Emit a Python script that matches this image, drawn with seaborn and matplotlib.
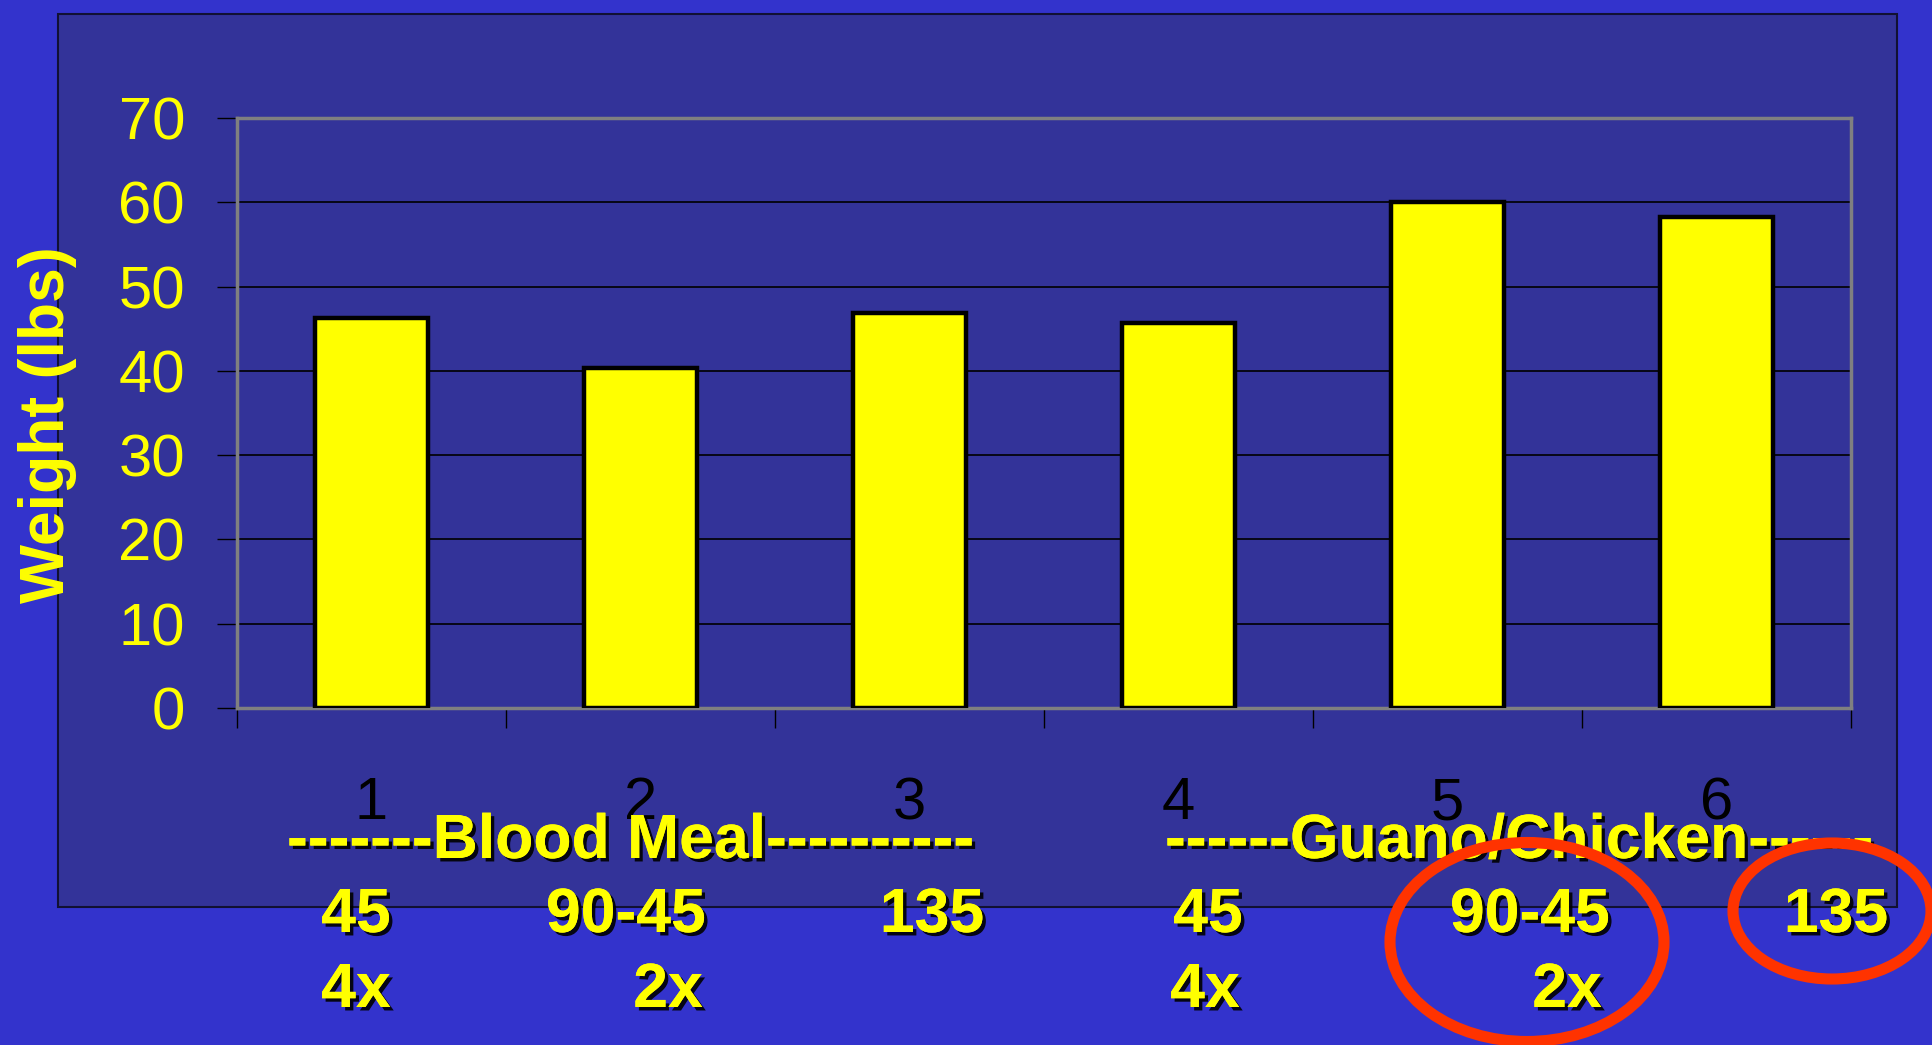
import matplotlib
matplotlib.use("Agg")
import matplotlib.pyplot as plt
import matplotlib.patheffects as pe
from matplotlib.patches import Rectangle, Ellipse
import seaborn as sns
import pandas as pd

# ---- data ----
categories = ["1", "2", "3", "4", "5", "6"]
weights = [46.3, 40.3, 46.9, 45.7, 60.0, 58.2]
y_ticks = [0, 10, 20, 30, 40, 50, 60, 70]
y_label = "Weight (lbs)"
group_labels = ["-------Blood Meal----------", "------Guano/Chicken------"]
rate_labels = ["45", "90-45", "135", "45", "90-45", "135"]
freq_labels = ["4x", "2x", "4x", "2x"]

# ---- layout (pixels) ----
W, H = 1933, 1045
group_x = [287, 1165]
group_base = 858
rate_x = [356, 626, 932, 1208, 1530, 1836]
rate_base = 932
freq_x = [356, 668, 1205, 1567]
freq_base = 1007

FONT = "Liberation Sans"
YELLOW = "#FFFF00"


def fx(px):
    return px / W


def fy(py):
    return 1 - py / H


fig = plt.figure(figsize=(W / 100, H / 100), dpi=100, facecolor="#3333CC")
plt.rcParams["font.family"] = [FONT, "DejaVu Sans"]

# chart panel
fig.patches.append(Rectangle((fx(58), fy(907)), fx(1897) - fx(58), fy(14) - fy(907),
                             transform=fig.transFigure, facecolor="#333399",
                             edgecolor="#111133", lw=1.5, zorder=-5))

ax = fig.add_axes([fx(237), fy(708), fx(1851) - fx(237), fy(118) - fy(708)])
ax.set_zorder(1)
ax.set_facecolor("none")

df = pd.DataFrame({"cat": categories, "w": weights})
sns.barplot(data=df, x="cat", y="w", color=YELLOW, saturation=1, width=0.42,
            edgecolor="black", linewidth=3.2, ax=ax, zorder=3)

ax.set_xlim(-0.5, 5.5)
ax.set_ylim(0, 70)
ax.set_yticks(y_ticks)
ax.set_yticklabels([str(v) for v in y_ticks])
ax.yaxis.grid(True, color="black", lw=1.2)
ax.xaxis.grid(False)
ax.set_axisbelow(True)

for s in ax.spines.values():
    s.set_color("#808080")
    s.set_linewidth(2.5)

ax.tick_params(axis="y", length=14.4, width=1, color="black", pad=23,
               labelsize=43, labelcolor=YELLOW)
ax.set_xticks([i - 0.5 for i in range(7)])
ax.set_xticklabels([])
ax.set_xticks(range(6), minor=True)
ax.set_xticklabels(categories, minor=True)
ax.tick_params(axis="x", which="major", length=14.4, width=1, color="black")
ax.tick_params(axis="x", which="minor", length=0, pad=49, labelsize=43,
               labelcolor="black")
for t in ax.get_yticklabels() + ax.get_xticklabels(minor=True):
    t.set_fontfamily(FONT)

ax.set_xlabel("")
ax.set_ylabel(y_label, fontsize=45, fontweight="bold", color=YELLOW, fontfamily=FONT)
ax.yaxis.set_label_coords((77 - 237) / 1614, 0.48)

shadow = [pe.withSimplePatchShadow(offset=(2.5, -2.5), shadow_rgbFace="black", alpha=0.9),
          pe.Normal()]
txt_kw = dict(color=YELLOW, fontsize=45, fontweight="bold", fontfamily=FONT,
              path_effects=shadow, va="baseline", zorder=5)

for lbl, x in zip(group_labels, group_x):
    fig.text(fx(x), fy(group_base), lbl, ha="left", **txt_kw)
for lbl, x in zip(rate_labels, rate_x):
    fig.text(fx(x), fy(rate_base), lbl, ha="center", **txt_kw)
for lbl, x in zip(freq_labels, freq_x):
    fig.text(fx(x), fy(freq_base), lbl, ha="center", **txt_kw)

# red highlight ellipses
for (cx, cy, w, h) in [(1527, 942, 274, 199), (1832, 911, 198, 136)]:
    fig.patches.append(Ellipse((fx(cx), fy(cy)), w / W, h / H, transform=fig.transFigure,
                               facecolor="none", edgecolor="#FF3300", lw=8, zorder=6))

fig.savefig("out.png", dpi=100, facecolor=fig.get_facecolor())
